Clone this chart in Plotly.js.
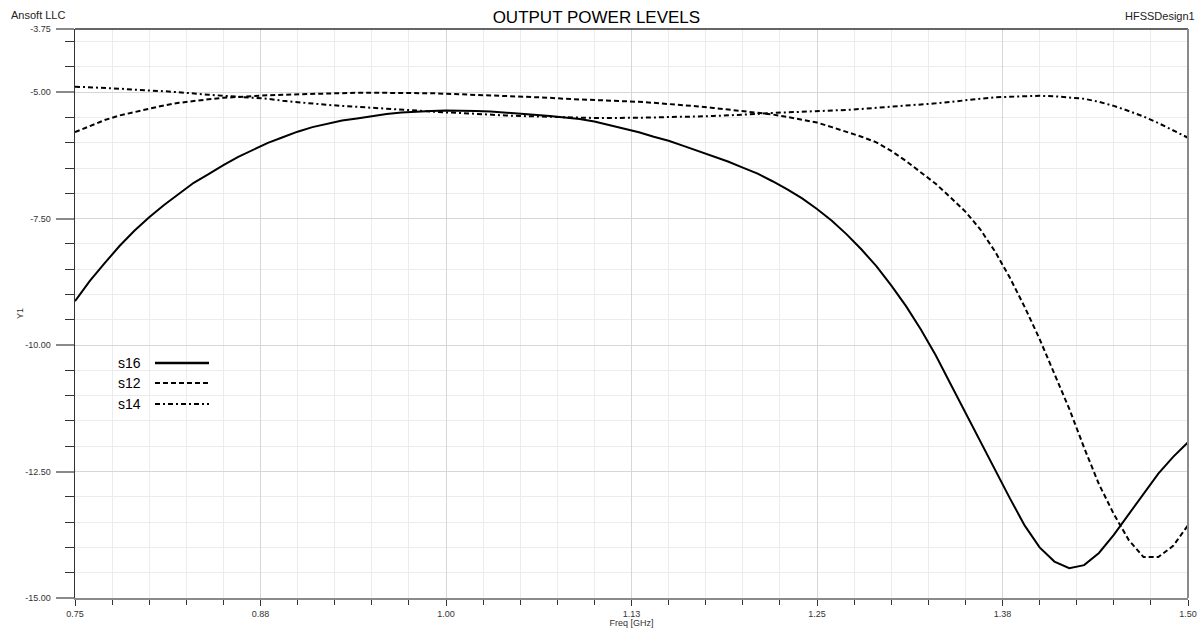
<!DOCTYPE html>
<html>
<head>
<meta charset="utf-8">
<script src="https://cdn.plot.ly/plotly-3.0.1.min.js"></script>
<style>html,body{margin:0;padding:0;background:#fff;}#chart{width:1200px;height:628px;}</style>
</head>
<body>
<div id="chart"></div>
<script>
// ---- data ----
const freq = [0.75,0.76,0.77,0.78,0.79,0.80,0.81,0.82,0.83,0.84,0.85,0.86,0.87,0.88,0.89,0.90,0.91,0.92,0.93,0.94,
  0.95,0.96,0.97,0.98,0.99,1.00,1.01,1.02,1.03,1.04,1.05,1.06,1.07,1.08,1.09,1.10,1.11,1.12,1.13,1.14,
  1.15,1.16,1.17,1.18,1.19,1.20,1.21,1.22,1.23,1.24,1.25,1.26,1.27,1.28,1.29,1.30,1.31,1.32,1.33,1.34,
  1.35,1.36,1.37,1.38,1.39,1.40,1.41,1.42,1.43,1.44,1.45,1.46,1.47,1.48,1.49,1.50];
const s16 = [-9.13,-8.73,-8.38,-8.04,-7.74,-7.47,-7.23,-7.01,-6.79,-6.62,-6.44,-6.28,-6.14,-6.00,-5.89,-5.78,-5.69,-5.62,-5.56,-5.52,
  -5.47,-5.43,-5.40,-5.38,-5.37,-5.36,-5.36,-5.37,-5.38,-5.40,-5.42,-5.44,-5.47,-5.50,-5.53,-5.58,-5.65,-5.72,-5.79,-5.88,
  -5.96,-6.06,-6.16,-6.26,-6.37,-6.49,-6.61,-6.76,-6.92,-7.10,-7.31,-7.54,-7.81,-8.11,-8.44,-8.82,-9.23,-9.69,-10.20,-10.77,
  -11.34,-11.90,-12.47,-13.03,-13.57,-14.00,-14.28,-14.41,-14.35,-14.11,-13.75,-13.35,-12.94,-12.54,-12.21,-11.92];
const s12 = [-5.79,-5.67,-5.55,-5.46,-5.39,-5.32,-5.26,-5.21,-5.17,-5.14,-5.11,-5.09,-5.08,-5.06,-5.05,-5.04,-5.03,-5.02,-5.02,-5.01,
  -5.01,-5.01,-5.01,-5.02,-5.02,-5.03,-5.04,-5.05,-5.06,-5.07,-5.09,-5.10,-5.11,-5.13,-5.14,-5.15,-5.16,-5.18,-5.19,-5.21,
  -5.23,-5.26,-5.28,-5.31,-5.34,-5.37,-5.40,-5.44,-5.49,-5.54,-5.60,-5.69,-5.78,-5.88,-5.99,-6.16,-6.36,-6.58,-6.81,-7.08,
  -7.36,-7.71,-8.15,-8.67,-9.25,-9.88,-10.56,-11.26,-12.03,-12.75,-13.34,-13.85,-14.19,-14.19,-13.97,-13.56];
const s14 = [-4.89,-4.90,-4.91,-4.93,-4.95,-4.96,-4.98,-5.00,-5.03,-5.05,-5.07,-5.09,-5.11,-5.13,-5.17,-5.20,-5.23,-5.25,-5.27,-5.29,
  -5.31,-5.33,-5.34,-5.36,-5.38,-5.40,-5.41,-5.43,-5.44,-5.46,-5.47,-5.48,-5.49,-5.50,-5.50,-5.51,-5.51,-5.51,-5.51,-5.50,
  -5.49,-5.49,-5.48,-5.47,-5.46,-5.44,-5.43,-5.41,-5.40,-5.39,-5.38,-5.36,-5.35,-5.33,-5.31,-5.29,-5.27,-5.24,-5.22,-5.19,
  -5.16,-5.13,-5.10,-5.09,-5.08,-5.07,-5.08,-5.10,-5.13,-5.19,-5.27,-5.37,-5.48,-5.61,-5.75,-5.90];
const seriesNames = ['s16','s12','s14'];
const seriesValues = [s16, s12, s14];
const xTickVals = [0.75,0.875,1.0,1.125,1.25,1.375,1.5];
const xTickText = ['0.75','0.88','1.00','1.13','1.25','1.38','1.50'];
const yTickVals = [-15,-12.5,-10,-7.5,-5,-3.75];
const yTickText = ['-15.00','-12.50','-10.00','-7.50','-5.00','-3.75'];

// ---- styles ----
const dashes = ['solid','5px,3px','5px,3px,2px,3px'];
const widths = [2, 2, 2];
const FONT = 'Liberation Sans, Arial, sans-serif';

const W = 1200, H = 628;
const L = 75, R = 12, T = 29, B = 30;
const pw = W - L - R, ph = H - T - B;
const px = v => (v - L) / pw;
const py = v => (H - B - v) / ph;

const traces = seriesNames.map((n, i) => ({
  type: 'scatter', mode: 'lines', name: n,
  x: freq, y: seriesValues[i],
  line: {color: '#000', width: widths[i], dash: dashes[i]},
  showlegend: false, hoverinfo: 'skip'
}));

const annotations = [
  {text: 'Ansoft LLC', xref: 'paper', yref: 'paper', x: px(9), y: py(15), xanchor: 'left', yanchor: 'middle', showarrow: false, font: {family: FONT, size: 11, color: '#222'}},
  {text: 'HFSSDesign1', xref: 'paper', yref: 'paper', x: px(1197), y: py(16), xanchor: 'right', yanchor: 'middle', showarrow: false, font: {family: FONT, size: 11, color: '#222'}}
];
const shapes = [
  {type: 'line', xref: 'paper', yref: 'paper', x0: 0, x1: 1, y0: 1, y1: 1, line: {color: '#333', width: 1.5}},
  {type: 'line', xref: 'paper', yref: 'paper', x0: 1, x1: 1, y0: 0, y1: 1, line: {color: '#8a8a8a', width: 2}}
];
// custom legend: label on the left, line sample on the right
const legRows = [363, 383, 404];
seriesNames.forEach((n, i) => {
  annotations.push({text: n, xref: 'paper', yref: 'paper', x: px(116), y: py(legRows[i]), xanchor: 'left', yanchor: 'middle', showarrow: false, font: {family: FONT, size: 14, color: '#000'}});
  shapes.push({type: 'line', xref: 'paper', yref: 'paper', x0: px(155), x1: px(209), y0: py(legRows[i]), y1: py(legRows[i]), line: {color: '#000', width: i === 0 ? 2.5 : 2.2, dash: dashes[i]}});
});

const layout = {
  width: W, height: H,
  margin: {l: L, r: R, t: T, b: B, pad: 0},
  paper_bgcolor: '#fff', plot_bgcolor: '#fff',
  showlegend: false,
  font: {family: FONT, size: 9, color: '#333'},
  title: {text: 'OUTPUT POWER LEVELS', font: {family: FONT, size: 17, color: '#000'}, xref: 'container', x: 0.497, xanchor: 'center', yref: 'container', y: 1 - 17 / H, yanchor: 'middle'},
  xaxis: {
    range: [0.75, 1.5], tickmode: 'array', tickvals: xTickVals, ticktext: xTickText,
    showline: true, linecolor: '#8a8a8a', linewidth: 2, zeroline: false,
    ticks: 'outside', ticklen: 6, tickcolor: '#333', tickwidth: 1,
    showgrid: true, gridcolor: '#d6d6d6', gridwidth: 1,
    tickfont: {family: FONT, size: 9, color: '#333'},
    minor: {tick0: 0.75, dtick: 0.025, ticks: 'outside', ticklen: 5, tickcolor: '#333', tickwidth: 1, showgrid: true, gridcolor: '#ececec', gridwidth: 1},
    title: {text: 'Freq [GHz]', font: {family: FONT, size: 9, color: '#333'}, standoff: 0},
    automargin: false, fixedrange: true
  },
  yaxis: {
    range: [-15, -3.75], tickmode: 'array', tickvals: yTickVals, ticktext: yTickText,
    showline: true, linecolor: '#333', linewidth: 1.5, zeroline: false,
    ticks: 'outside', ticklen: 18, tickcolor: '#8a8a8a', tickwidth: 2,
    showgrid: true, gridcolor: '#d6d6d6', gridwidth: 1,
    ticklabelstandoff: 3,
    tickfont: {family: FONT, size: 9, color: '#333'},
    minor: {tick0: -15, dtick: 0.5, ticks: 'outside', ticklen: 9, tickcolor: '#333', tickwidth: 1, showgrid: true, gridcolor: '#ececec', gridwidth: 1},
    title: {text: 'Y1', font: {family: FONT, size: 9, color: '#333'}, standoff: 0},
    automargin: false, fixedrange: true
  },
  annotations: annotations,
  shapes: shapes
};

Plotly.newPlot('chart', traces, layout, {staticPlot: true, displayModeBar: false});
</script>
</body>
</html>
